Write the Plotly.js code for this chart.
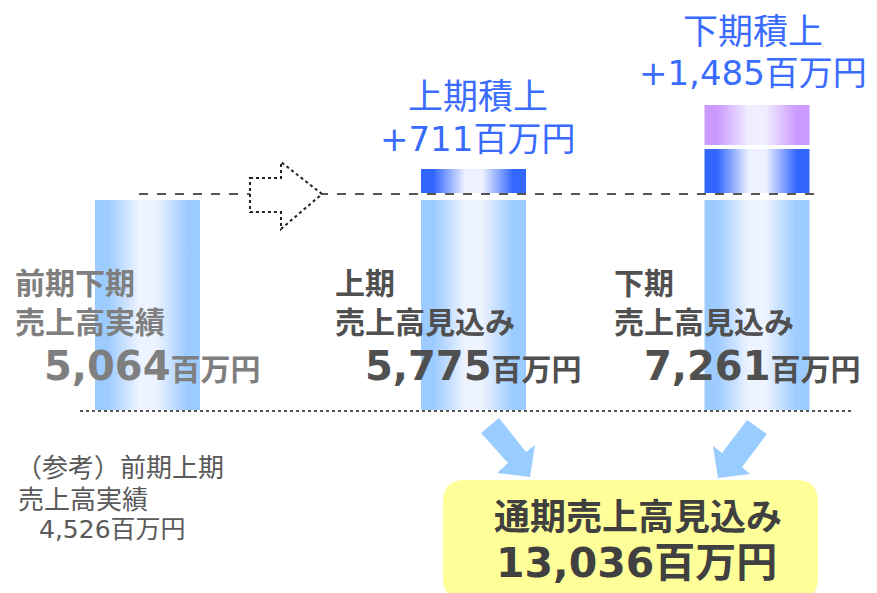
<!DOCTYPE html>
<html>
<head>
<meta charset="utf-8">
<script src="https://cdn.plot.ly/plotly-3.0.1.min.js"></script>
<style>
  html, body { margin: 0; padding: 0; background: #fff; }
  #chart { width: 877px; height: 593px; }
</style>
</head>
<body>
<div id="chart"></div>
<script>
// Sales figures (百万円)
const periodLabels = ['前期下期', '上期', '下期'];
const subLabels = ['売上高実績', '売上高見込み', '売上高見込み'];
const salesValues = [5064, 5775, 7261];
const addLabels = ['上期積上', '下期積上'];
const addValues = [711, 1485];
const refLabel = ['（参考）前期上期', '売上高実績'];
const refValue = 4526;
const totalLabel = '通期売上高見込み';
const totalValue = 13036;

// Bar segment heights as drawn (schematic units)
const baseHeights = [210, 210, 210];
const firstAddHeights = [0, 24, 44];
const secondAddHeights = [0, 0, 40];

// layout: 1 axis unit = 1 pixel, baseline sits 410px from the top
const W = 877, H = 593, BASE = 410;
const barCenters = [147.5, 473.5, 757];
const barWidth = 105;
// DejaVu gives the wide Meiryo-like digits, CJK falls back to Noto
const FONT = '"DejaVu Sans", "Noto Sans CJK JP", sans-serif';
const CJK = '"Noto Sans CJK JP", sans-serif';
const yy = py => BASE - py;   // pixel row -> axis value

function fmt(v) { return v.toLocaleString('en-US'); }

function gradient(edge, mid) {
    return {
        type: 'horizontal',
        colorscale: [[0, edge], [0.12, edge], [0.42, mid], [0.58, mid], [0.88, edge], [1, edge]]
    };
}

const baseGrad = gradient('#9ccbff', '#edf3ff');
const blueGrad = gradient('#3366ff', '#eef1ff');
const purpleGrad = gradient('#cc99ff', '#efeeff');

function segment(i, y0, y1, grad) {
    const l = barCenters[i] - barWidth / 2, r = barCenters[i] + barWidth / 2;
    return {
        x: [l, r, r, l, l],
        y: [y0, y0, y1, y1, y0],
        mode: 'lines',
        fill: 'toself',
        fillgradient: grad,
        line: { width: 0, color: 'rgba(0,0,0,0)' },
        hoverinfo: 'skip',
        showlegend: false
    };
}

const traces = [];
baseHeights.forEach((h, i) => {
    traces.push(segment(i, 0, h, baseGrad));
    if (firstAddHeights[i] > 0) {
        const s = h + 7;
        traces.push(segment(i, s, s + firstAddHeights[i], blueGrad));
        if (secondAddHeights[i] > 0) {
            const s2 = s + firstAddHeights[i] + 4;
            traces.push(segment(i, s2, s2 + secondAddHeights[i], purpleGrad));
        }
    }
});

function poly(points) {
    return 'M ' + points.map(p => p[0] + ',' + yy(p[1])).join(' L ') + ' Z';
}

const shapes = [
    // dotted baseline
    { type: 'line', x0: 80, x1: 851, y0: yy(411), y1: yy(411), line: { color: '#555', width: 2, dash: 'dot' } },
    // dashed level line
    { type: 'line', x0: 139, x1: 820, y0: yy(194), y1: yy(194), line: { color: '#555', width: 2, dash: 'dash' } },
    // dotted outline arrow
    {
        type: 'path', path: poly([[250, 178], [281, 178], [281, 162], [322, 194], [281, 229], [281, 212], [250, 212]]),
        fillcolor: '#ffffff', line: { color: '#222', width: 2, dash: 'dot' }
    },
    // fat arrows to total
    {
        type: 'path', path: poly([[481, 433], [499, 418], [526, 452], [535, 445], [530, 477], [497, 473], [508, 463]]),
        fillcolor: '#99ccff', line: { width: 0 }
    },
    {
        type: 'path', path: poly([[747, 420], [767, 434], [742, 467], [750, 474], [718, 478], [713, 446], [722, 453]]),
        fillcolor: '#99ccff', line: { width: 0 }
    },
    // total box
    {
        type: 'path',
        path: 'M 443,' + yy(502) + ' Q 443,' + yy(480) + ' 465,' + yy(480) + ' L 796,' + yy(480) +
            ' Q 818,' + yy(480) + ' 818,' + yy(502) + ' L 818,' + yy(578) + ' Q 818,' + yy(600) + ' 796,' + yy(600) +
            ' L 465,' + yy(600) + ' Q 443,' + yy(600) + ' 443,' + yy(578) + ' Z',
        fillcolor: '#ffff99', line: { width: 0 }, layer: 'below'
    }
];

function note(text, x, py, size, color, bold, anchor, family) {
    return {
        text: bold ? '<b>' + text + '</b>' : text,
        x: x, y: yy(py), xref: 'x', yref: 'y',
        xanchor: anchor || 'left', yanchor: 'middle', align: 'left',
        showarrow: false,
        font: { family: family || FONT, size: size, color: color }
    };
}

const unit = sz => '<span style="font-size:' + sz + 'px">百万円</span>';
const labelX = [13, 333, 612];
const numX = [42, 363, 642];
const labelColors = ['#7f7f7f', '#505050', '#505050'];

const annotations = [];
periodLabels.forEach((p, i) => {
    annotations.push(note(p + '<br>' + subLabels[i], labelX[i], 300, 30, labelColors[i], true, 'left', CJK));
    annotations.push(note(fmt(salesValues[i]) + unit(30), numX[i], 366, 40, labelColors[i], true));
});

// increments
const addCenters = [barCenters[1] + 4, barCenters[2] - 4];
const addRows = [[93, 139], [28, 73]];
addLabels.forEach((a, i) => {
    annotations.push(note(a, addCenters[i], addRows[i][0], 35, '#3a6cff', false, 'center', CJK));
    annotations.push(note('+' + fmt(addValues[i]) + '百万円', addCenters[i], addRows[i][1], 34, '#3a6cff', false, 'center'));
});

// reference
annotations.push(note(refLabel[0], 14, 465, 26, '#595959', false, 'left', CJK));
annotations.push(note(refLabel[1], 16, 497, 26, '#595959', false, 'left', CJK));
annotations.push(note(fmt(refValue) + '百万円', 37, 529, 25, '#595959', false));

// total
annotations.push(note(totalLabel, 638, 514, 36, '#404040', true, 'center', CJK));
annotations.push(note(fmt(totalValue) + '百万円', 636, 563, 41, '#404040', true, 'center'));

const layout = {
    width: W, height: H,
    margin: { l: 0, r: 0, t: 0, b: 0 },
    paper_bgcolor: '#ffffff',
    plot_bgcolor: '#ffffff',
    xaxis: { range: [0, W], visible: false, fixedrange: true },
    yaxis: { range: [BASE - H, BASE], visible: false, fixedrange: true },
    shapes: shapes,
    annotations: annotations,
    showlegend: false
};

Plotly.newPlot('chart', traces, layout, { displayModeBar: false, staticPlot: true });
</script>
</body>
</html>
